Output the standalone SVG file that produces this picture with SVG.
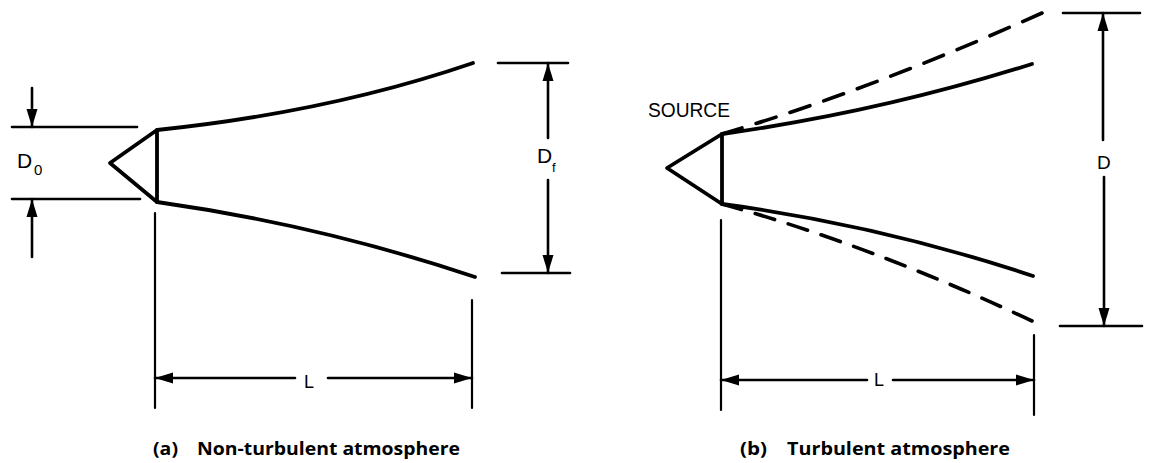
<svg xmlns="http://www.w3.org/2000/svg" width="1150" height="463" viewBox="0 0 1150 463">
<style>
.beam{fill:none;stroke:#000;stroke-width:3.8;stroke-linecap:round;stroke-linejoin:round}
.dash{fill:none;stroke:#000;stroke-width:3.6;stroke-linecap:round;stroke-dasharray:20 14}
.dim{fill:none;stroke:#000;stroke-width:2.6;stroke-linecap:round}
.ext{fill:none;stroke:#000;stroke-width:2.2;stroke-linecap:round}
.lbl{font-family:"Liberation Sans",Arial,sans-serif;fill:#000}
.cap{font-family:"Open Sans","Liberation Sans",sans-serif;font-weight:bold;fill:#000;font-size:17px}
</style>
<defs>
<marker id="ah" markerUnits="userSpaceOnUse" markerWidth="19" markerHeight="12" refX="18" refY="6" orient="auto">
<path d="M0,0.5 L18,6 L0,11.5 Z" fill="#000"/>
</marker>
</defs>
<rect width="1150" height="463" fill="#fff"/>

<g id="panel-a-source">
<path class="beam" d="M157,130 L110,163 L157,202 Z"/>
</g>
<g id="panel-a-beam">
<path class="beam" d="M157,130 Q330,112 473,63"/>
<path class="beam" d="M157,202 Q320,225 475,277"/>
</g>
<g id="panel-a-d0">
<line class="dim" x1="12" y1="127" x2="137" y2="127"/>
<line class="dim" x1="12" y1="199" x2="140" y2="199"/>
<text class="lbl" x="17" y="168" font-size="21">D</text>
<text class="lbl" x="34" y="175" font-size="15">0</text>
</g>
<g id="panel-a-df">
<line class="dim" x1="498" y1="63" x2="568" y2="63"/>
<line class="dim" x1="502" y1="273" x2="570" y2="273"/>
<text class="lbl" x="537" y="163" font-size="21">D</text>
<text class="lbl" x="552" y="172" font-size="13">f</text>
</g>
<g id="panel-a-L">
<line class="ext" x1="155" y1="213" x2="155" y2="408"/>
<line class="ext" x1="472" y1="300" x2="472" y2="408"/>
<text class="lbl" x="304" y="388" font-size="18">L</text>
</g>
<g id="caption-a">
<text class="cap" x="153" y="455" textLength="25" lengthAdjust="spacingAndGlyphs">(a)</text>
<text class="cap" x="197" y="455" textLength="263" lengthAdjust="spacingAndGlyphs">Non-turbulent atmosphere</text>
</g>

<g id="panel-b-source">
<path class="beam" d="M722,134 L667,168 L722,204 Z"/>
<text class="lbl" x="648" y="117" font-size="20" textLength="82" lengthAdjust="spacingAndGlyphs">SOURCE</text>
</g>
<g id="panel-b-beam">
<path class="beam" d="M722,134 Q880,112 1032,64"/>
<path class="beam" d="M722,204 Q880,225 1033,276"/>
<path class="dash" pathLength="326" d="M722,134 Q870,90 1042,13"/>
<path class="dash" pathLength="326" d="M722,204 Q870,245 1032,321"/>
</g>
<g id="panel-b-D">
<line class="dim" x1="1063" y1="13" x2="1140" y2="13"/>
<line class="dim" x1="1060" y1="326" x2="1142" y2="326"/>
<text class="lbl" x="1097" y="169" font-size="19">D</text>
</g>
<g id="panel-b-L">
<line class="ext" x1="721" y1="220" x2="721" y2="410"/>
<line class="ext" x1="1034" y1="335" x2="1034" y2="415"/>
<text class="lbl" x="874" y="386" font-size="18">L</text>
</g>
<g id="caption-b">
<text class="cap" x="740" y="455" textLength="27" lengthAdjust="spacingAndGlyphs">(b)</text>
<text class="cap" x="787" y="455" textLength="223" lengthAdjust="spacingAndGlyphs">Turbulent atmosphere</text>
</g>

<g id="connectors">
<line class="dim" x1="32" y1="88" x2="32" y2="127" marker-end="url(#ah)"/>
<line class="dim" x1="32" y1="257" x2="32" y2="199" marker-end="url(#ah)"/>
<line class="dim" x1="548" y1="138" x2="548" y2="63" marker-end="url(#ah)"/>
<line class="dim" x1="548" y1="180" x2="548" y2="273" marker-end="url(#ah)"/>
<line class="dim" x1="295" y1="378" x2="155" y2="378" marker-end="url(#ah)"/>
<line class="dim" x1="328" y1="378" x2="472" y2="378" marker-end="url(#ah)"/>
<line class="dim" x1="1103" y1="140" x2="1103" y2="13" marker-end="url(#ah)"/>
<line class="dim" x1="1104" y1="177" x2="1104" y2="326" marker-end="url(#ah)"/>
<line class="dim" x1="867" y1="380" x2="721" y2="380" marker-end="url(#ah)"/>
<line class="dim" x1="893" y1="380" x2="1034" y2="380" marker-end="url(#ah)"/>
</g>
</svg>
